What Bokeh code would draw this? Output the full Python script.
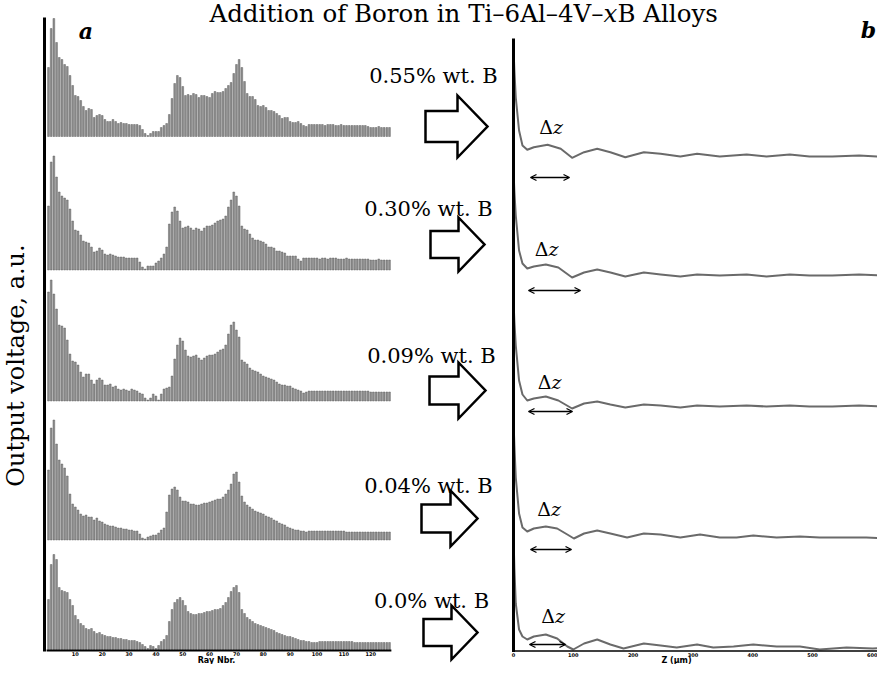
import numpy as np
from bokeh.plotting import figure
from bokeh.models import Range1d, ColumnDataSource, Arrow, OpenHead
from bokeh.core.properties import value
from bokeh.embed import file_html
from bokeh.resources import INLINE

# ---------------- texts ----------------
title_main = "Addition of Boron in Ti–6Al–4V–"
title_var = "x"
title_tail = "B Alloys"
y_axis_title = "Output voltage, a.u."
ray_axis_title = "Ray Nbr."
z_axis_title = "Z (µm)"
boron_labels = ["0.55% wt. B", "0.30% wt. B", "0.09% wt. B", "0.04% wt. B", "0.0% wt. B"]
panel_letters = ["a", "b"]

# ---------------- axis ticks ----------------
ray_ticks = [10, 20, 30, 40, 50, 60, 70, 80, 90, 100, 110, 120]
z_ticks = [0, 100, 200, 300, 400, 500, 600]
first_ray = 0

# ---------------- histograms (a): output voltage per ray, a.u. ----------------
hist_b055 = [69, 108, 118, 94, 79, 77, 72, 70, 61, 51,
             41, 40, 36, 30, 26, 28, 27, 19, 21, 22,
             21, 17, 15, 15, 17, 15, 13, 14, 13, 13,
             12, 12, 12, 12, 11, 7, 3, 1, 3, 5,
             5, 5, 9, 11, 13, 22, 38, 53, 61, 59,
             50, 41, 42, 41, 43, 42, 39, 41, 41, 40,
             39, 43, 45, 44, 44, 45, 48, 51, 54, 63,
             72, 77, 69, 55, 43, 40, 40, 37, 31, 30,
             31, 29, 26, 26, 25, 23, 21, 18, 19, 19,
             15, 14, 14, 15, 13, 11, 10, 12, 12, 12,
             12, 12, 12, 11, 12, 12, 12, 11, 11, 12,
             11, 11, 11, 11, 11, 11, 11, 11, 11, 10,
             9, 9, 9, 10, 9, 9, 9, 9]
hist_b030 = [64, 108, 114, 93, 78, 74, 72, 70, 61, 49,
             40, 39, 35, 29, 28, 27, 23, 18, 19, 22,
             20, 16, 15, 16, 15, 14, 13, 13, 13, 12,
             12, 12, 12, 12, 8, 3, 1, 4, 4, 4,
             7, 9, 12, 16, 23, 46, 58, 63, 59, 49,
             42, 43, 44, 42, 40, 42, 41, 39, 42, 44,
             44, 45, 47, 49, 50, 51, 54, 63, 70, 78,
             74, 64, 44, 41, 40, 36, 32, 30, 30, 29,
             28, 26, 23, 23, 22, 19, 19, 18, 17, 14,
             14, 14, 14, 11, 9, 12, 12, 12, 12, 12,
             12, 11, 12, 12, 11, 12, 12, 12, 11, 11,
             11, 12, 11, 11, 11, 11, 11, 11, 11, 11,
             10, 10, 10, 11, 10, 10, 10, 10]
hist_b009 = [109, 121, 107, 92, 76, 75, 73, 61, 47, 40,
             39, 36, 29, 24, 27, 27, 21, 17, 21, 23,
             21, 16, 16, 17, 14, 15, 12, 11, 12, 11,
             10, 12, 11, 10, 8, 7, 3, 1, 3, 7,
             5, 1, 7, 12, 13, 14, 25, 42, 56, 63,
             60, 51, 45, 44, 45, 46, 43, 41, 43, 45,
             46, 46, 47, 49, 51, 52, 56, 67, 76, 79,
             71, 64, 41, 39, 37, 33, 31, 30, 29, 27,
             25, 24, 23, 22, 21, 19, 17, 16, 16, 15,
             15, 13, 12, 11, 10, 8, 9, 10, 10, 10,
             10, 10, 10, 10, 10, 10, 10, 10, 10, 10,
             10, 10, 10, 10, 10, 10, 10, 10, 10, 10,
             9, 9, 9, 9, 9, 9, 9, 9]
hist_b004 = [70, 112, 120, 96, 80, 76, 72, 64, 46, 36,
             33, 30, 26, 24, 25, 23, 23, 20, 22, 19,
             18, 16, 15, 14, 14, 13, 12, 12, 11, 11,
             10, 10, 9, 9, 6, 2, 1, 3, 4, 5,
             5, 7, 10, 12, 28, 45, 51, 53, 50, 43,
             39, 39, 38, 36, 36, 35, 35, 36, 37, 37,
             38, 39, 40, 41, 41, 43, 46, 50, 56, 66,
             68, 58, 44, 38, 35, 33, 31, 29, 28, 27,
             26, 24, 23, 22, 20, 19, 17, 16, 15, 13,
             12, 11, 10, 10, 9, 9, 8, 9, 9, 9,
             9, 9, 9, 9, 9, 9, 9, 9, 9, 9,
             9, 8, 8, 8, 8, 8, 8, 8, 8, 8,
             8, 8, 8, 8, 8, 8, 8, 8]
hist_b000 = [50, 85, 95, 90, 62, 59, 58, 57, 50, 44,
             34, 30, 26, 24, 21, 20, 21, 18, 16, 17,
             15, 14, 13, 13, 12, 12, 11, 11, 10, 10,
             9, 9, 9, 8, 7, 5, 3, 1, 4, 3,
             1, 4, 8, 10, 14, 28, 40, 47, 50, 52,
             49, 44, 38, 36, 35, 35, 36, 36, 37, 38,
             38, 39, 40, 40, 41, 44, 47, 52, 58, 62,
             64, 57, 40, 36, 32, 30, 28, 26, 25, 24,
             23, 22, 21, 20, 19, 17, 16, 15, 14, 13,
             13, 12, 11, 10, 9, 9, 8, 8, 7, 7,
             7, 8, 8, 8, 8, 8, 8, 8, 8, 8,
             8, 8, 8, 8, 7, 7, 7, 7, 7, 7,
             7, 7, 7, 7, 7, 7, 7, 7]

# ---------------- profiles (b): signal vs depth Z (µm), a.u. ----------------
z_b055 = [0, 1.5, 3.8, 9.3, 15, 23, 34, 57, 79, 98, 118, 140, 162, 187, 218, 246, 279, 307, 345, 390, 423, 462, 495, 533, 578, 620]
v_b055 = [108, 86, 59, 26, 11, 6.7, 9.3, 11.7, 7.7, -1.3, 4.3, 7.7, 4.3, -0.7, 4.3, 2.7, 0, 2.7, 0, 2, 0, 2, 0, 0, 1, -0.5]
z_b030 = [0, 1.5, 3.8, 9.3, 15, 23, 34, 54, 75, 98, 118, 140, 162, 187, 218, 246, 279, 307, 345, 390, 423, 462, 495, 533, 578, 620]
v_b030 = [105, 84, 60, 25, 12, 7, 9, 11, 8, -2, 3, 6, 3, -1, 3, 1, -1, 1, 0, 1, -1, 1, 0, 0, 1, 0]
z_b009 = [0, 1.5, 3.8, 9.3, 15, 23, 34, 54, 75, 98, 118, 140, 162, 187, 218, 246, 279, 307, 345, 390, 423, 462, 495, 533, 578, 620]
v_b009 = [106, 85, 61, 26, 12, 6, 8, 10, 6, -2, 3, 5, 2, -1, 2, 1, -1, 1, 0, 1, 0, 1, 0, 0, 1, 0]
z_b004 = [0, 1.5, 3.8, 9.3, 15, 23, 34, 54, 73, 90, 101, 118, 140, 162, 190, 218, 246, 279, 312, 345, 373, 401, 440, 479, 512, 551, 590, 620]
v_b004 = [117, 92, 60, 24, 10, 6, 9, 11, 9, 3, -1, 4, 7, 4, 0, 4, 3, 0, 3, 0, 0, 2, 0, 1, 0, 0, 0, -1]
z_b000 = [0, 1.5, 3.8, 9.3, 15, 23, 34, 54, 73, 90, 100, 118, 140, 162, 184, 218, 246, 273, 307, 334, 368, 401, 440, 479, 512, 557, 601, 620]
v_b000 = [112, 80, 45, 19, 12, 9, 12, 14, 10, 2, -1, 5, 9, 4, 0, 5, 3, 1, 4, 1, 2, 4, 2, 2, -1, 1, 0, 1]

hists = [hist_b055, hist_b030, hist_b009, hist_b004, hist_b000]
profiles = [(z_b055, v_b055), (z_b030, v_b030), (z_b009, v_b009), (z_b004, v_b004), (z_b000, v_b000)]

# ---------------- layout (canvas pixel coordinates) ----------------
W, H = 877, 664
RAY0_X, RAY_PX = 48.0, 2.685        # canvas x of the first ray, pixels per ray
Z0_X, Z_PX = 513.0, 0.598           # canvas x of Z = 0, pixels per µm
LEFT_LINE_X = 44
AXIS_Y = 650
hist_base = [136, 269.5, 400.5, 539.5, 649]
curve_base = [156, 275, 406, 537, 648]
label_pos = [(433, 75.5), (428, 208), (431, 355), (428, 485), (431, 600)]
big_arrow = [(456, 126, 31), (457, 244, 27), (457, 390, 28), (449, 518, 28), (450, 632, 27)]
dz_pos = [(552.5, 126), (548, 248), (551, 381), (550.5, 508.5), (554.5, 615)]
dz_arrow = [(530, 569, 177), (528, 580, 290), (528, 572, 411), (530, 571, 549), (529, 565, 644)]

SERIF = value("DejaVu Serif")
SANS = value("DejaVu Sans")
MID = value("middle")

p = figure(width=W, height=H, x_range=Range1d(0, W), y_range=Range1d(H, 0),
           x_axis_type=None, y_axis_type=None, title=None,
           toolbar_location=None, output_backend="svg",
           min_border_left=0, min_border_right=0, min_border_top=0, min_border_bottom=0,
           outline_line_color=None, background_fill_color="white", border_fill_color="white")

p.extra_x_ranges = {
    "ray": Range1d(first_ray + (0 - RAY0_X) / RAY_PX, first_ray + (W - RAY0_X) / RAY_PX),
    "z": Range1d((0 - Z0_X) / Z_PX, (W - Z0_X) / Z_PX),
}

# histograms
for vals, base in zip(hists, hist_base):
    v = np.array(vals, dtype=float)
    rays = first_ray + np.arange(len(v))
    src = ColumnDataSource(dict(ray=rays, top=base - v, bottom=np.full(len(v), base)))
    p.vbar(x="ray", top="top", bottom="bottom", width=0.66, source=src,
           x_range_name="ray", fill_color="#8e8e8e", line_color="#5a5a5a", line_width=0.45)

n_rays = len(hist_b055)
# panel a axes: vertical line + ray axis
p.segment(x0=[LEFT_LINE_X], y0=[17], x1=[LEFT_LINE_X], y1=[AXIS_Y + 1],
          line_color="black", line_width=3)
p.segment(x0=[first_ray - 0.7], y0=[AXIS_Y], x1=[first_ray + n_rays - 0.3], y1=[AXIS_Y],
          x_range_name="ray", line_color="black", line_width=2)
p.text(x=ray_ticks, y=[AXIS_Y + 3.8] * len(ray_ticks), text=[str(t) for t in ray_ticks],
       x_range_name="ray", text_font=SANS, text_font_size=value("5px"),
       text_font_style=value("bold"), text_align=value("center"), text_baseline=MID)
p.text(x=[216], y=[659.5], text=[ray_axis_title], text_font=SANS, text_font_size=value("8px"),
       text_font_style=value("bold"), text_align=value("center"), text_baseline=MID)
p.text(x=[15], y=[365], text=[y_axis_title], angle=np.pi / 2, text_font=SERIF,
       text_font_size=value("24px"), text_align=value("center"), text_baseline=MID)

# profiles
for (z, v), base in zip(profiles, curve_base):
    p.line(x=z, y=base - np.array(v, dtype=float), x_range_name="z",
           line_color="#6a6a6a", line_width=2, line_join="round")

# panel b axes
p.segment(x0=[0], y0=[38], x1=[0], y1=[AXIS_Y + 1.5], x_range_name="z",
          line_color="black", line_width=3)
p.segment(x0=[0], y0=[AXIS_Y + 0.5], x1=[p.extra_x_ranges["z"].end], y1=[AXIS_Y + 0.5],
          x_range_name="z", line_color="black", line_width=1.5)
p.text(x=z_ticks, y=[AXIS_Y + 4.3] * len(z_ticks), text=[str(t) for t in z_ticks],
       x_range_name="z", text_font=SANS, text_font_size=value("5px"),
       text_font_style=value("bold"), text_align=value("center"), text_baseline=MID)
p.text(x=[676], y=[659.5], text=[z_axis_title], text_font=SANS, text_font_size=value("8px"),
       text_font_style=value("bold"), text_align=value("center"), text_baseline=MID)

# title
p.text(x=[603], y=[12.5], text=[title_main], text_font=SERIF, text_font_size=value("24.5px"),
       text_align=value("right"), text_baseline=MID)
p.text(x=[603], y=[12.5], text=[title_var], text_font=SERIF, text_font_size=value("24.5px"),
       text_font_style=value("italic"), text_align=value("left"), text_baseline=MID)
p.text(x=[617], y=[12.5], text=[title_tail], text_font=SERIF, text_font_size=value("24.5px"),
       text_align=value("left"), text_baseline=MID)

# panel letters
p.text(x=[85.5, 877 - 9], y=[30.5, 29], text=panel_letters, text_font=SERIF,
       text_font_size=value("22px"), text_font_style=value("bold italic"),
       text_align=value("center"), text_baseline=MID)

# boron content labels
p.text(x=[q[0] for q in label_pos], y=[q[1] for q in label_pos], text=boron_labels,
       text_font=SERIF, text_font_size=value("21px"), text_align=value("center"),
       text_baseline=MID)

# hollow arrows
xs, ys = [], []
for cx, cy, r in big_arrow:
    xs.append([cx - r, cx + 1, cx + 1, cx + r, cx + 1, cx + 1, cx - r])
    ys.append([cy - r / 2, cy - r / 2, cy - r, cy, cy + r, cy + r / 2, cy + r / 2])
p.patches(xs, ys, fill_color="white", line_color="black", line_width=2.5, line_join="miter")

# delta z annotations
p.text(x=[q[0] for q in dz_pos], y=[q[1] for q in dz_pos], text=["Δ"] * 5,
       text_font=SERIF, text_font_size=value("19px"), text_align=value("right"),
       text_baseline=MID)
p.text(x=[q[0] for q in dz_pos], y=[q[1] for q in dz_pos], text=["z"] * 5,
       text_font=SERIF, text_font_size=value("19px"), text_font_style=value("italic"),
       text_align=value("left"), text_baseline=MID)
for x0, x1, yy in dz_arrow:
    p.add_layout(Arrow(start=OpenHead(size=6, line_width=1.3), end=OpenHead(size=6, line_width=1.3),
                       x_start=x0, y_start=yy, x_end=x1, y_end=yy, line_width=1.3,
                       line_color="black"))

open("out.html", "w").write(file_html(p, INLINE, title="Addition of Boron in Ti-6Al-4V-xB Alloys"))
